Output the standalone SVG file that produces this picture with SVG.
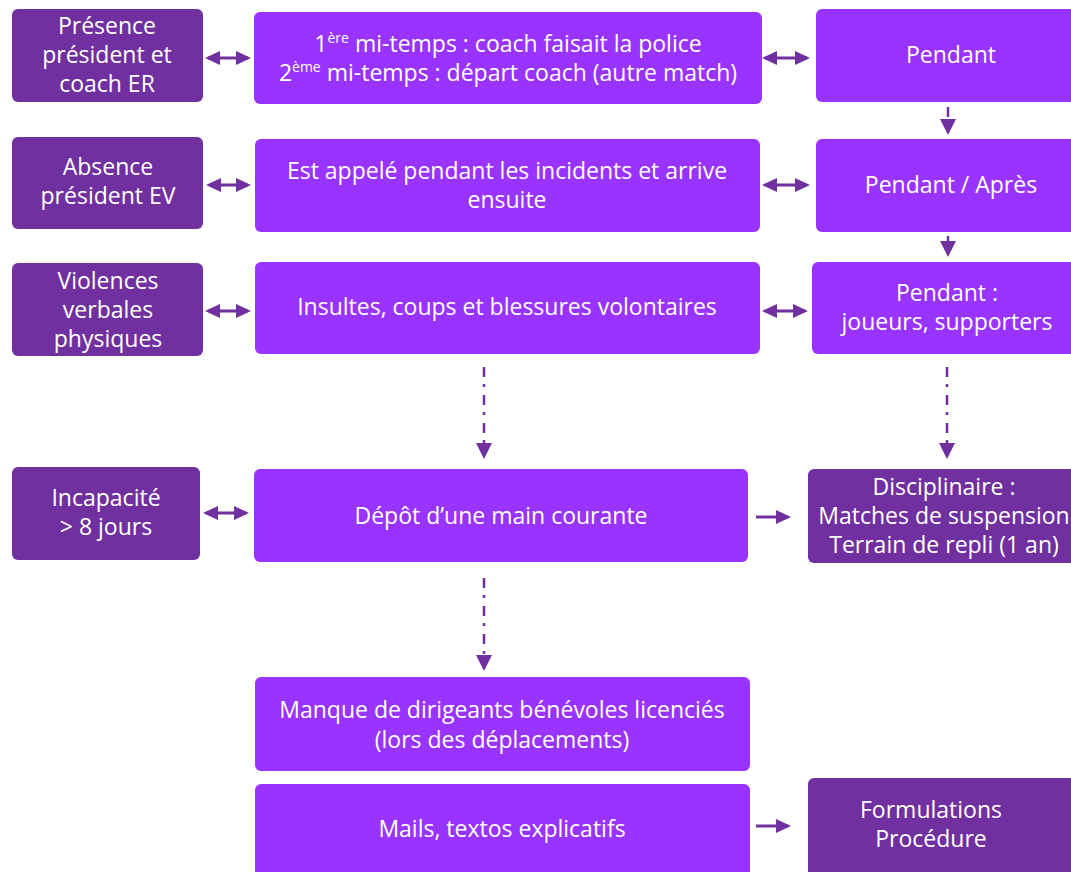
<svg xmlns="http://www.w3.org/2000/svg" width="1071" height="872" viewBox="0 0 1071 872">
<style>
.dk{fill:#7030A0}
.br{fill:#9933FF}
text{font-family:"Open Sans","Noto Sans",sans-serif;font-size:23px;fill:#fff;text-anchor:middle}
.sup{font-size:14px}
.dbl{stroke:#7030A0;stroke-width:3;fill:none;marker-start:url(#ah);marker-end:url(#ah)}
.sgl{stroke:#7030A0;stroke-width:3;fill:none;marker-end:url(#ah)}
.dsh{stroke:#7030A0;stroke-width:2.5;fill:none;stroke-dasharray:10 7 3 8;marker-end:url(#dh)}
</style>
<defs>
<marker id="ah" markerUnits="userSpaceOnUse" markerWidth="16" markerHeight="16" refX="12" refY="7" orient="auto-start-reverse">
<path d="M0,0 L15,7 L0,14 z" fill="#7030A0"/>
</marker>
<marker id="dh" markerUnits="userSpaceOnUse" markerWidth="18" markerHeight="18" refX="2" refY="8" orient="auto">
<path d="M0,0 L16,8 L0,16 z" fill="#7030A0"/>
</marker>
</defs>
<rect width="1071" height="872" fill="#fff"/>

<g id="n-presence"><rect class="dk" x="12" y="9" width="191" height="93" rx="6"/>
<text x="107" y="34">Présence</text><text x="107" y="63">président et</text><text x="107" y="92">coach ER</text></g>
<g id="n-mitemps"><rect class="br" x="254" y="12" width="508" height="92" rx="6"/>
<text x="508" y="52">1<tspan class="sup" dy="-9">ère</tspan><tspan dy="9"> mi-temps : coach faisait la police</tspan></text>
<text x="508" y="81">2<tspan class="sup" dy="-9">ème</tspan><tspan dy="9"> mi-temps : départ coach (autre match)</tspan></text></g>
<g id="n-pendant1"><rect class="br" x="816" y="9" width="262" height="93" rx="6"/>
<text x="951" y="63">Pendant</text></g>

<g id="n-absence"><rect class="dk" x="12" y="137" width="191" height="92" rx="6"/>
<text x="108" y="175">Absence</text><text x="108" y="204">président EV</text></g>
<g id="n-appele"><rect class="br" x="255" y="139" width="505" height="93" rx="6"/>
<text x="507" y="179">Est appelé pendant les incidents et arrive</text><text x="507" y="208">ensuite</text></g>
<g id="n-pendantapres"><rect class="br" x="816" y="139" width="262" height="93" rx="6"/>
<text x="951" y="193">Pendant / Après</text></g>

<g id="n-violences"><rect class="dk" x="12" y="263" width="191" height="93" rx="6"/>
<text x="108" y="289">Violences</text><text x="108" y="318">verbales</text><text x="108" y="347">physiques</text></g>
<g id="n-insultes"><rect class="br" x="255" y="262" width="505" height="92" rx="6"/>
<text x="507" y="315">Insultes, coups et blessures volontaires</text></g>
<g id="n-joueurs"><rect class="br" x="812" y="262" width="266" height="92" rx="6"/>
<text x="947" y="301">Pendant :</text><text x="947" y="330">joueurs, supporters</text></g>

<g id="n-incapacite"><rect class="dk" x="12" y="467" width="188" height="93" rx="6"/>
<text x="106" y="506">Incapacité</text><text x="106" y="535">&gt; 8 jours</text></g>
<g id="n-depot"><rect class="br" x="254" y="469" width="494" height="93" rx="6"/>
<text x="501" y="524">Dépôt d’une main courante</text></g>
<g id="n-disciplinaire"><rect class="dk" x="808" y="469" width="270" height="94" rx="6"/>
<text x="944" y="495">Disciplinaire :</text><text x="944" y="524">Matches de suspension</text><text x="944" y="553">Terrain de repli (1 an)</text></g>

<g id="n-manque"><rect class="br" x="255" y="677" width="495" height="94" rx="6"/>
<text x="502" y="718">Manque de dirigeants bénévoles licenciés</text><text x="502" y="748">(lors des déplacements)</text></g>

<g id="n-mails"><rect class="br" x="255" y="784" width="495" height="100" rx="6"/>
<text x="502" y="837">Mails, textos explicatifs</text></g>
<g id="n-formulations"><rect class="dk" x="808" y="778" width="270" height="100" rx="6"/>
<text x="931" y="818">Formulations</text><text x="931" y="847">Procédure</text></g>

<g id="connectors">
<line class="dbl" x1="208" y1="58" x2="248" y2="58"/>
<line class="dbl" x1="765" y1="58" x2="807" y2="58"/>
<line class="dbl" x1="209" y1="185" x2="248" y2="185"/>
<line class="dbl" x1="765" y1="185" x2="807" y2="185"/>
<line class="dbl" x1="208" y1="311" x2="248" y2="311"/>
<line class="dbl" x1="765" y1="311" x2="805" y2="311"/>
<line class="dbl" x1="206" y1="513" x2="246" y2="513"/>
<line class="sgl" x1="756" y1="517" x2="788" y2="517"/>
<line class="sgl" x1="756" y1="826" x2="788" y2="826"/>
<line class="dsh" x1="948" y1="107" x2="948" y2="121"/>
<line class="dsh" x1="948" y1="236" x2="948" y2="243"/>
<line class="dsh" x1="484" y1="367" x2="484" y2="445"/>
<line class="dsh" x1="947" y1="367" x2="947" y2="445"/>
<line class="dsh" x1="484" y1="578" x2="484" y2="657"/>
</g>
</svg>
